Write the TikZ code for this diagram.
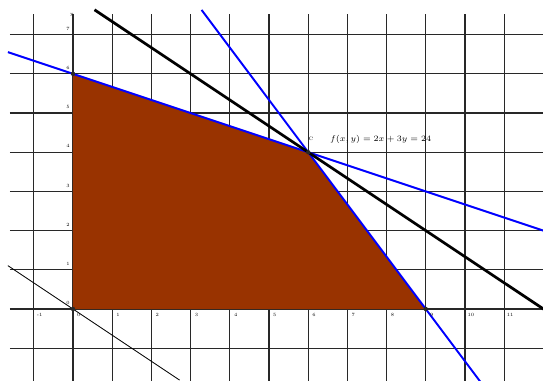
\documentclass[tikz,border=0pt]{standalone}
\usepackage{tikz}
\definecolor{regionbrown}{RGB}{153,51,0}
\definecolor{gridgray}{RGB}{40,40,40}
\begin{document}
\begin{tikzpicture}[x=1cm,y=1cm,
  gridline/.style={gridgray,line width=0.75pt},
  bluecon/.style={blue,line width=1.4pt},
  objline/.style={black,line width=2pt},
  thinline/.style={black,line width=0.6pt},
  vertexdot/.style={circle,fill=gridgray,inner sep=0pt,minimum size=3.2pt},
  ticklab/.style={font=\fontsize{3.5}{4}\selectfont,inner sep=0pt},
  eqlab/.style={font=\fontsize{6}{7}\selectfont,inner sep=0pt,anchor=west}]
\useasboundingbox (-1.862,-1.811) rectangle (11.99,7.883);
\fill[white] (-1.862,-1.811) rectangle (11.99,7.883);
% grid
\foreach \i in {-1,...,11} \draw[gridline] (\i,-1.9) -- (\i,7.53);
\foreach \j in {-1,...,7} \draw[gridline] (-1.61,\j) -- (12.1,\j);
% feasible region
\fill[regionbrown] (0,0) -- (0,6) -- (6,4) -- (9,0) -- cycle;
% constraint lines
\coordinate (b1s) at (-1.66,6.553);
\coordinate (b1e) at (12.2,1.933);
\coordinate (b2s) at (3.28,7.63);
\coordinate (b2e) at (10.4,-1.867);
\coordinate (os) at (0.55,7.633);
\coordinate (oe) at (12.05,-0.033);
\coordinate (ts) at (-1.66,1.107);
\coordinate (te) at (2.72,-1.813);
\draw[bluecon] (b1s) -- (b1e);
\draw[bluecon] (b2s) -- (b2e);
\draw[objline] (os) -- (oe);
\draw[thinline] (ts) -- (te);
% vertices
\node[vertexdot] (O) at (0,0) {};
\node[vertexdot] (B) at (0,6) {};
\node[vertexdot] (C) at (6,4) {};
\node[vertexdot] (D) at (9,0) {};
% labels
\node[ticklab] (clab) at (6.07,4.33) {C};
\node[eqlab] (eq) at (6.55,4.33) {$f(x,y)=2x+3y=24$};
\node[ticklab] (ylab) at (-0.03,7.5) {y};
\foreach \i in {-1,...,11} \node[ticklab] (xt\i) at (\i+0.15,-0.16) {\i};
\foreach \j in {0,...,7} \node[ticklab] (yt\j) at (-0.13,\j+0.15) {\j};
\end{tikzpicture}
\end{document}
